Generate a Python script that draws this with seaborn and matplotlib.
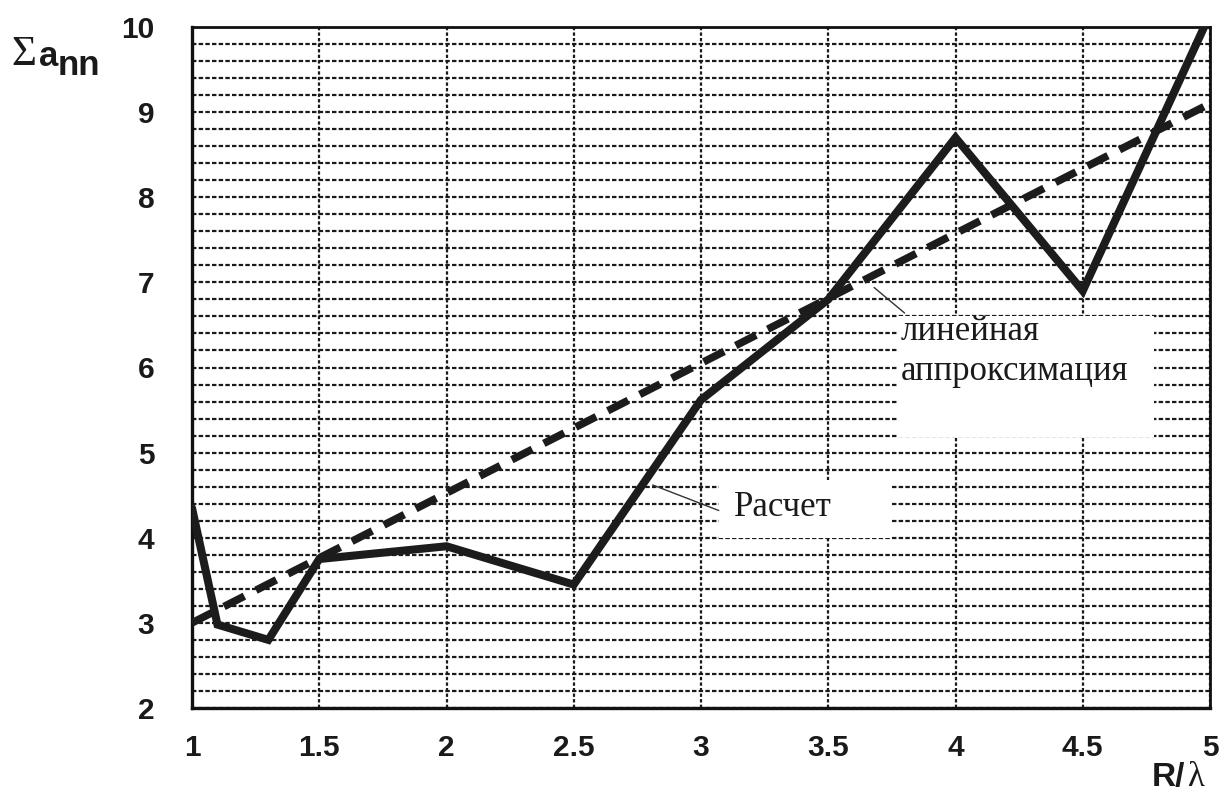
import numpy as np
import pandas as pd
import seaborn as sns
import matplotlib
matplotlib.use("Agg")
import matplotlib.pyplot as plt
from matplotlib.patches import Rectangle
from matplotlib.ticker import MultipleLocator, FixedLocator

# ---- data ----
r_lambda = [1.0, 1.1, 1.3, 1.5, 2.0, 2.5, 3.0, 3.5, 4.0, 4.5, 5.0]
sum_ann = [4.35, 2.98, 2.8, 3.75, 3.9, 3.45, 5.62, 6.8, 8.7, 6.9, 10.15]
approx_x = [1.0, 5.0]
approx_y = [3.0, 9.1]
x_ticks = [1, 1.5, 2, 2.5, 3, 3.5, 4, 4.5, 5]
x_tick_labels = ["1", "1.5", "2", "2.5", "3", "3.5", "4", "4.5", "5"]
y_ticks = [2, 3, 4, 5, 6, 7, 8, 9, 10]
y_tick_labels = ["2", "3", "4", "5", "6", "7", "8", "9", "10"]
label_calc = "Расчет"
label_approx_1 = "линейная"
label_approx_2 = "аппроксимация"

sns.set_style("white")
plt.rcParams["font.family"] = ["Liberation Sans", "DejaVu Sans"]

W, H = 1224, 796
fig = plt.figure(figsize=(W / 100, H / 100), dpi=100)
ax = fig.add_axes([192 / W, 1 - 708 / H, (1210 - 192) / W, (708 - 27) / H])

df_calc = pd.DataFrame({"x": r_lambda, "y": sum_ann})
df_app = pd.DataFrame({"x": approx_x, "y": approx_y})

sns.lineplot(data=df_calc, x="x", y="y", ax=ax, color="#1c1c1c", lw=5.8,
             sort=False, solid_joinstyle="miter", zorder=4)
sns.lineplot(data=df_app, x="x", y="y", ax=ax, color="#1c1c1c", lw=5.5,
             linestyle=(0, (3.0, 1.7)), dash_capstyle="butt", zorder=4)

ax.set_xlim(1, 5)
ax.set_ylim(2, 10)
ax.set_xlabel("")
ax.set_ylabel("")

# grid
ax.set_axisbelow(True)
ax.yaxis.set_major_locator(FixedLocator(y_ticks))
ax.yaxis.set_minor_locator(MultipleLocator(0.2))
ax.xaxis.set_major_locator(FixedLocator(x_ticks))
ax.xaxis.set_minor_locator(MultipleLocator(0.1))
ax.set_xticklabels(x_tick_labels)
ax.set_yticklabels(y_tick_labels)
ax.grid(which="major", axis="y", color="#1a1a1a", lw=1.6, linestyle=(0, (2, 1)))
ax.grid(which="minor", axis="y", color="#1a1a1a", lw=1.6, linestyle=(0, (2, 1)))
ax.grid(which="major", axis="x", color="#1a1a1a", lw=1.6, linestyle=(0, (1.5, 1.0)))

ax.tick_params(axis="x", which="major", length=0, pad=19, labelsize=21.5)
ax.tick_params(axis="x", which="minor", direction="in", length=6, width=1.0,
               color="#333333")
ax.tick_params(axis="y", which="both", length=0, pad=27, labelsize=21.5)
for lab in ax.get_xticklabels() + ax.get_yticklabels():
    lab.set_fontweight("bold")
    lab.set_color("#1a1a1a")

for s in ax.spines.values():
    s.set_visible(True)
    s.set_color("#111111")
    s.set_linewidth(2.0)
ax.spines["left"].set_linewidth(2.4)
ax.spines["bottom"].set_linewidth(2.4)

# white label boxes
ax.add_patch(Rectangle((3.77, 5.18), 1.01, 1.43, facecolor="white",
                       edgecolor="none", zorder=2))
ax.add_patch(Rectangle((3.07, 4.0), 0.68, 0.68, facecolor="white",
                       edgecolor="none", zorder=2))

ax.text(3.785, 6.32, label_approx_1, fontsize=25, family="Liberation Serif",
        ha="left", va="baseline", color="#1a1a1a", zorder=5)
ax.text(3.785, 5.85, label_approx_2, fontsize=25, family="Liberation Serif",
        ha="left", va="baseline", color="#1a1a1a", zorder=5)
ax.text(3.13, 4.36, label_calc, fontsize=25, family="Liberation Serif",
        ha="left", va="center", color="#1a1a1a", zorder=5)

# leader lines
ax.plot([2.81, 3.07], [4.62, 4.32], color="#333333", lw=1.0, zorder=5)
ax.plot([3.68, 3.80], [6.94, 6.64], color="#333333", lw=1.0, zorder=5)

# axis titles
fig.text(11 / W, 1 - 65 / H, "Σ", fontsize=31, family="Liberation Serif",
         color="#1a1a1a", ha="left", va="baseline")
fig.text(39 / W, 1 - 66 / H, "a", fontsize=25, fontweight="bold",
         color="#1a1a1a", ha="left", va="baseline")
fig.text(58 / W, 1 - 75 / H, "nn", fontsize=25, fontweight="bold",
         color="#1a1a1a", ha="left", va="baseline")
fig.text(1152 / W, 1 - 786 / H, "R/", fontsize=24, fontweight="bold",
         color="#1a1a1a", ha="left", va="baseline")
fig.text(1187 / W, 1 - 786 / H, "λ", fontsize=25, family="Liberation Serif",
         color="#1a1a1a", ha="left", va="baseline")

fig.savefig("out.png", dpi=100)
